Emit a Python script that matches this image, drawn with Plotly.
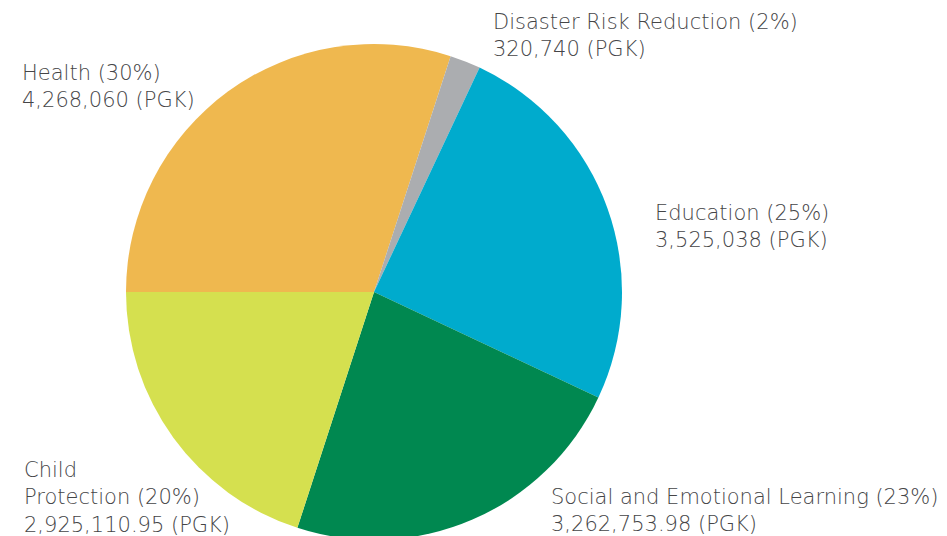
import plotly.graph_objects as go

categories = ["Health", "Disaster Risk Reduction", "Education",
              "Social and Emotional Learning", "Child Protection"]
display_names = ["Health", "Disaster Risk Reduction", "Education",
                 "Social and Emotional Learning", "Child<br>Protection"]
percents = [30, 2, 25, 23, 20]
value_labels = ["4,268,060", "320,740", "3,525,038", "3,262,753.98", "2,925,110.95"]
colors = ["#EFB84F", "#ABADB0", "#00ABCD", "#008850", "#D5E04F"]

# label anchor positions (paper coords), left aligned
label_x = [0.0127, 0.5100, 0.6811, 0.5713, 0.0148]
label_y = [0.9143, 1.0181, 0.6321, 0.0585, 0.0847]

W, H = 947, 536
fig = go.Figure()
fig.add_trace(go.Pie(
    labels=categories,
    values=percents,
    sort=False,
    direction="clockwise",
    rotation=-90,
    marker=dict(colors=colors, line=dict(width=0)),
    textinfo="none",
    customdata=value_labels,
    hovertemplate="%{label}<br>%{customdata} (PGK)<extra></extra>",
    domain=dict(x=[(366 - 248) / W, (366 + 248) / W], y=[0, 1]),
    showlegend=False,
))

for name, p, vl, x, y in zip(display_names, percents, value_labels, label_x, label_y):
    fig.add_annotation(
        x=x, y=y, xref="paper", yref="paper",
        xanchor="left", yanchor="middle", align="left",
        text=f"{name} ({p}%)<br>{vl} (PGK)",
        showarrow=False,
        font=dict(family="DejaVu Sans", size=21, color="#454547", weight=300),
    )

fig.update_layout(
    width=W, height=H,
    margin=dict(l=0, r=0, t=36, b=4),
    paper_bgcolor="white", plot_bgcolor="white",
)
fig.write_html("out.html")
